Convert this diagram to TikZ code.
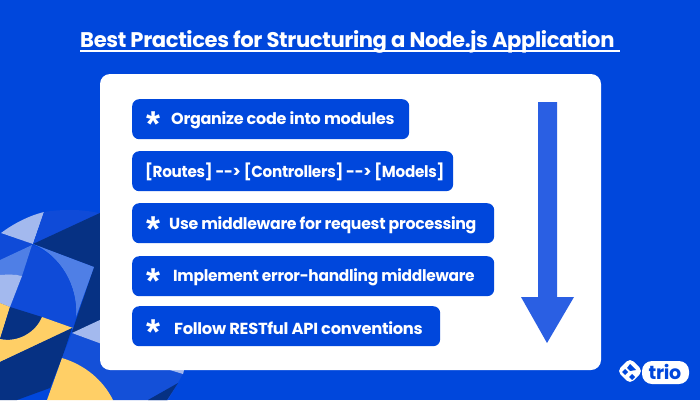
\documentclass[tikz,border=0pt]{standalone}
\usepackage{graphicx}
\usepackage{fontspec}
\setmainfont{Poppins}[LetterSpace=-1.8]
\newfontfamily\starfont{Liberation Sans}
\definecolor{bgblue}{HTML}{0047DC}
\definecolor{navy}{HTML}{063183}
\definecolor{midb}{HTML}{4F7FE6}
\definecolor{lightb}{HTML}{A3B9EE}
\definecolor{blob}{HTML}{0F4BD8}
\definecolor{blobb}{HTML}{1450D8}
\definecolor{gold}{HTML}{FFCF66}
\definecolor{arrowb}{HTML}{2A5FE3}
\tikzset{
  x=1pt,y=-1pt,
  itembox/.style={fill=bgblue,rounded corners=7pt,anchor=north west,minimum height=40pt,inner sep=0pt},
  itemtext/.style={text=white,font=\fontsize{16}{18}\selectfont\bfseries,anchor=west,inner sep=0pt},
  staricon/.style={text=white,font=\fontsize{36}{36}\starfont\bfseries,anchor=center,inner sep=0pt}
}
\begin{document}
\begin{tikzpicture}
\useasboundingbox (0,0) rectangle (700,400);
\fill[bgblue] (0,0) rectangle (700,400);
% blob
\fill[blob] (0,233) -- (33,244) -- (0,260) -- cycle;
\fill[lightb] (1,233) .. controls (13,224) and (28,216) .. (44,212) -- (33,244) -- cycle;
\fill[blob] (44,212) .. controls (62,209) and (85,209) .. (102,214) -- (33,244) -- cycle;
\fill[navy] (33,244) -- (102,212) -- (102,340) -- (72,332) -- (94,267) -- cycle;
\fill[midb] (33,244) -- (94,267) -- (76,317) .. controls (78,285) and (60,255) .. (33,244) -- cycle;
\fill[blob] (32,245) -- (10,307) -- (73,328) -- (76,317) .. controls (78,285) and (60,255) .. (32,245) -- cycle;
\fill[midb] (0,260) -- (32,245) -- (22,276) .. controls (15,274) and (7,274) .. (0,275) -- cycle;
\fill[lightb] (0,275) .. controls (7,274) and (15,274) .. (22,276) -- (10,307) -- (0,303) -- cycle;
\fill[gold] (0,303) -- (10,307) -- (0,339) -- cycle;
\fill[navy] (10,307) -- (42,317) .. controls (36,332) and (18,343) .. (0,339) -- cycle;
\fill[gold] (42,317) -- (73,328) -- (0,362) -- (0,339) .. controls (18,343) and (36,332) .. (42,317) -- cycle;
\fill[navy] (72,328) -- (0,362) -- (0,400) -- (17,400) -- (50,388) -- (62,358) -- cycle;
\fill[blobb] (72,333) -- (62,358) -- (113,400) -- (168,400) -- (184,372) -- (102,343) -- cycle;
\fill[gold] (62,358) .. controls (85,365) and (103,380) .. (113,400) -- (47,400) -- cycle;
\fill[lightb] (72,333) -- (102,319) -- (102,344) -- cycle;
\fill[lightb] (170,370) -- (184,370) -- (183,374) -- cycle;
\fill[navy] (178,383) -- (167,400) -- (148,400) -- cycle;
% panel
\fill[white,rounded corners=10pt] (100,74) rectangle (601,370);
% title
\node[text=white,font=\fontsize{21.2}{24}\selectfont\bfseries,anchor=base west,inner sep=0pt] (title) at (80,47) {\scalebox{0.996}[1]{Best Practices for Structuring a Node.js Application}};
\coordinate (ulL) at (80,51);
\coordinate (ulR) at (620,51);
\draw[white,line width=1.6pt] (ulL) -- (ulR);
% boxes
\node[itembox,minimum width=277pt] (b1) at (132,99) {};
\node[itembox,minimum width=321pt] (b2) at (132,151) {};
\node[itembox,minimum width=362pt] (b3) at (132,203) {};
\node[itembox,minimum width=362pt] (b4) at (132,256) {};
\node[itembox,minimum width=308pt] (b5) at (132,306) {};
\node[staricon] (s1) at (154,124) {*};
\node[staricon] (s3) at (154,229) {*};
\node[staricon] (s4) at (154,281) {*};
\node[staricon] (s5) at (154,332) {*};
\node[itemtext] (t1) at (171,120) {Organize code into modules};
\node[itemtext] (t2) at (145,172) {\scalebox{0.95}[1]{[Routes] -{}-> [Controllers] -{}-> [Models]}};
\node[itemtext] (t3) at (169,225) {\scalebox{0.985}[1]{Use middleware for request processing}};
\node[itemtext] (t4) at (173,277) {\scalebox{0.965}[1]{Implement error-handling middleware}};
\node[itemtext] (t5) at (174,328) {\scalebox{1.02}[1]{Follow RESTful API conventions}};
% arrow
\fill[arrowb] (538,102) -- (557,102) -- (557,297) -- (574,297) -- (547,343) -- (521,297) -- (538,297) -- cycle;
% logo
\fill[white,rounded corners=5pt] (630,358) -- (643,371) -- (630,384) -- (617,371) -- cycle;
\fill[white,rounded corners=10pt] (642,361) rectangle (689,384);
\fill[bgblue] (630,364) -- (636,370) -- (630,371) -- (627,368) -- cycle;
\fill[bgblue] (625,369) -- (628,372) -- (625,375) -- (622,372) -- cycle;
\fill[bgblue] (632,374) -- (635,377) -- (632,380) -- (629,377) -- cycle;
\node[text=bgblue,font=\fontsize{19}{19}\selectfont\bfseries,anchor=center,inner sep=0pt] (logo) at (665,372) {trio};
\end{tikzpicture}
\end{document}
